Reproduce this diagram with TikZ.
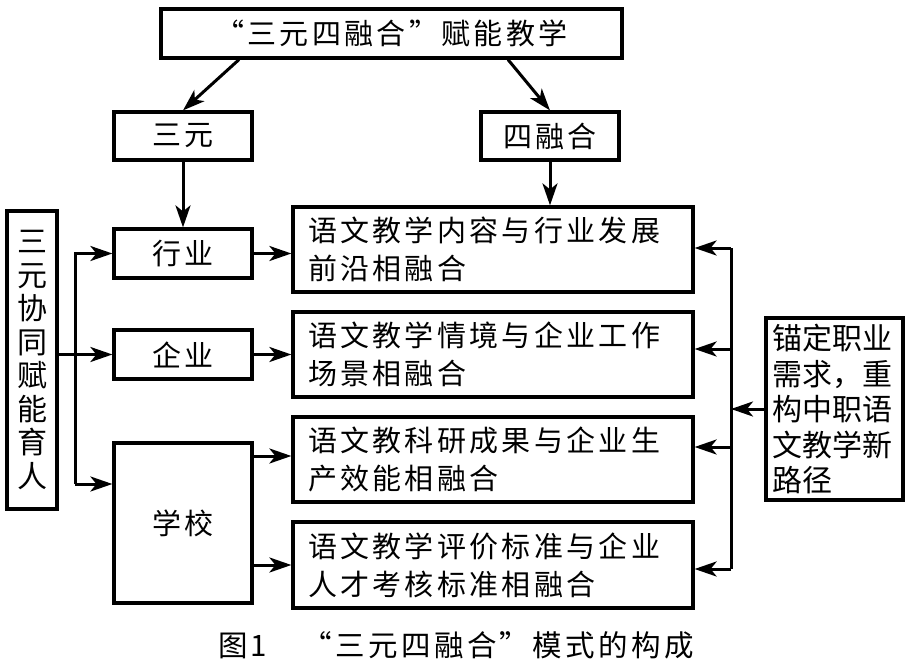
\documentclass[tikz,border=0pt]{standalone}
\usepackage{fontspec}
\newfontfamily\cjk{Noto Sans CJK SC}
\newfontfamily\cjkwide[LetterSpace=11.5]{Noto Sans CJK SC}
\usepackage{tikz}
\usetikzlibrary{positioning,calc,arrows.meta}

\begin{document}
\begin{tikzpicture}[x=1pt, y=-1pt,
	box/.style={draw, line width=3.2pt, inner sep=0pt, align=center, font=\cjkwide\fontsize{29}{38}\selectfont},
	arr/.style={line width=3pt, -{Stealth[length=22pt, width=15pt, inset=6pt]}}]
	\useasboundingbox (0,0) rectangle (914,664);
	% top row
	\node[box, minimum width=461pt, minimum height=49pt] (top) at (391.5,33.5) {“三元四融合”赋能教学};
	\node[box, minimum width=138pt, minimum height=48pt] (sanyuan) at (183,136) {三元};
	\node[box, minimum width=138pt, minimum height=48pt] (sironghe) at (550,136) {四融合};
	% three parties
	\node[box, minimum width=50pt, minimum height=298pt, font=\cjk\fontsize{30}{33.5}\selectfont] (xietong) at (32,360) {三\\元\\协\\同\\赋\\能\\育\\人};
	\node[box, minimum width=138pt, minimum height=49pt] (hangye) at (183,253.5) {行业};
	\node[box, minimum width=138pt, minimum height=49pt] (qiye) at (183,354.5) {企业};
	\node[box, minimum width=138pt, minimum height=160pt] (xuexiao) at (183,523) {学校};
	% four fusions
	\node[box, align=left, text width=370pt, inner xsep=15pt, minimum height=85pt] (rh1) at (493,249.5) {语文教学内容与行业发展\\前沿相融合};
	\node[box, align=left, text width=370pt, inner xsep=15pt, minimum height=85pt] (rh2) at (493,354.5) {语文教学情境与企业工作\\场景相融合};
	\node[box, align=left, text width=370pt, inner xsep=15pt, minimum height=85pt] (rh3) at (493,459.5) {语文教科研成果与企业生\\产效能相融合};
	\node[box, align=left, text width=370pt, inner xsep=15pt, minimum height=86pt] (rh4) at (493,565) {语文教学评价标准与企业\\人才考核标准相融合};
	\node[box, align=left, text width=125pt, inner xsep=6pt, minimum height=182pt, font=\cjk\fontsize{30}{35.5}\selectfont] (maoding) at (834.5,409) {锚定职业\\需求，重\\构中职语\\文教学新\\路径};
	\node[font=\cjkwide\fontsize{29.5}{29.5}\selectfont] (caption) at (456,645) {图1\hspace{1.2em}“三元四融合”模式的构成};

	% arrows from the top
	\draw[arr] ($(top.south)+(-152.5,0)$) -- (sanyuan.north);
	\draw[arr] ($(top.south)+(116.5,0)$) -- (sironghe.north);
	\draw[arr] (sanyuan.south) -- (hangye.north);
	\draw[arr] (sironghe.south) -- (sironghe.south |- rh1.north);

	% left trunk
	\coordinate (jl) at (75,484);
	\draw[arr] (jl) |- (hangye.west);
	\draw[arr] (jl) -- (jl -| xuexiao.west);
	\draw[arr] (xietong.east |- qiye.west) -- (qiye.west);

	% middle to fusions
	\draw[arr] (hangye.east) -- (hangye.east -| rh1.west);
	\draw[arr] (qiye.east) -- (qiye.east -| rh2.west);
	\draw[arr] ($(xuexiao.east)+(0,-67)$) -- ($(xuexiao.east -| rh3.west)+(0,-67)$);
	\draw[arr] ($(xuexiao.east)+(0,42)$) -- ($(xuexiao.east -| rh4.west)+(0,42)$);

	% right trunk
	\coordinate (r1) at (731,248);
	\coordinate (r2) at (731,349);
	\coordinate (r3) at (731,447);
	\coordinate (r4) at (731,569);
	\draw[line width=3pt] (r1) -- (r4);
	\draw[arr] (r1) -- (r1 -| rh1.east);
	\draw[arr] (r2) -- (r2 -| rh2.east);
	\draw[arr] (r3) -- (r3 -| rh3.east);
	\draw[arr] (r4) -- (r4 -| rh4.east);
	\draw[arr] (maoding.west) -- (maoding.west -| r1);
\end{tikzpicture}
\end{document}
